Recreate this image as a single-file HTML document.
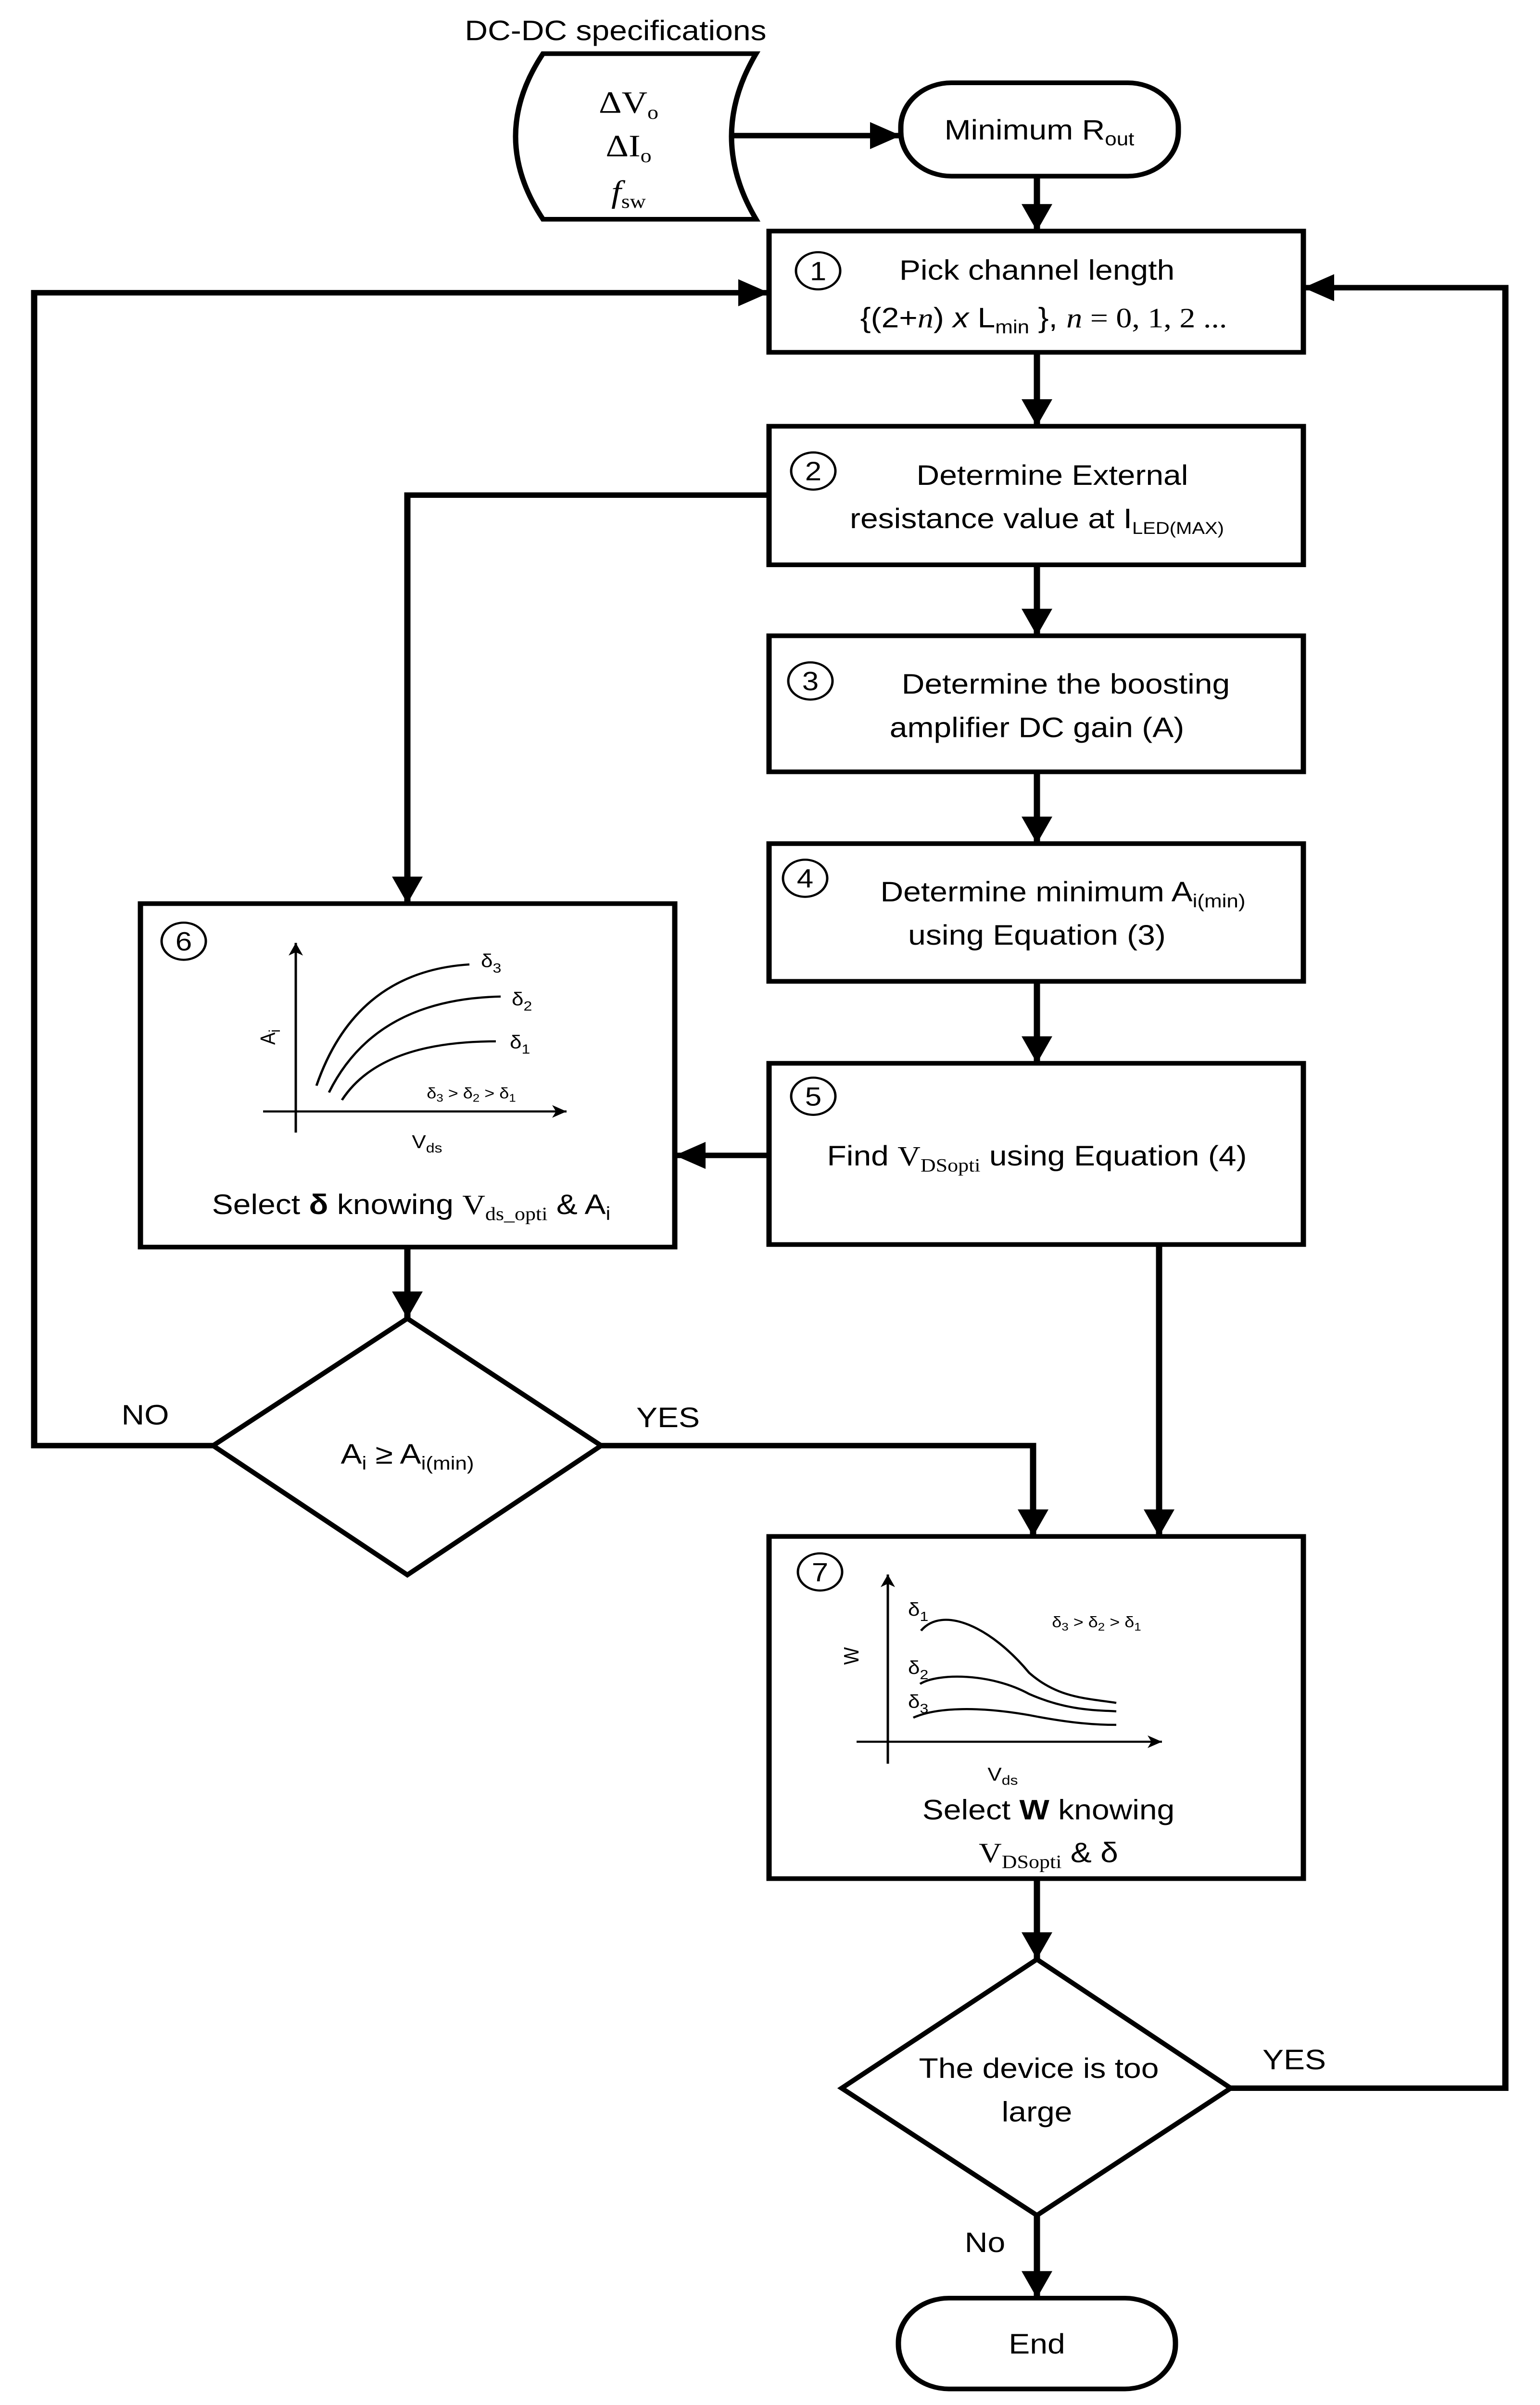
<!DOCTYPE html>
<html><head><meta charset="utf-8"><style>
html,body{margin:0;padding:0;background:#fff;width:100vw;height:100vh;overflow:hidden}
svg{display:block;position:absolute;left:0;top:0;width:100vw;height:100vh}
text{font-family:"Liberation Sans",sans-serif;fill:#000}
.t{font-size:66px}
.s{font-size:44px}
.ser{font-family:"Liberation Serif",serif}
</style></head><body>
<svg viewBox="0 0 3202 5693" preserveAspectRatio="none" xmlns="http://www.w3.org/2000/svg">
<defs>
<marker id="a" markerUnits="userSpaceOnUse" markerWidth="70" markerHeight="70" refX="64" refY="32" orient="auto"><path d="M0,0 L64,32 L0,64 z" fill="#000"/></marker>
<marker id="b" markerUnits="userSpaceOnUse" markerWidth="40" markerHeight="40" refX="30" refY="15" orient="auto"><path d="M0,0 L30,15 L0,30 L8,15 z" fill="#000"/></marker>
</defs>
<g fill="none" stroke="#000" stroke-width="11">
<path d="M1129,127 L1572,127 Q1470,323 1572,519 L1129,519 Q1015,323 1129,127 Z"/>
<rect x="1873" y="196" width="577" height="221" rx="105"/>
<rect x="1599" y="547" width="1111" height="287"/>
<rect x="1599" y="1009" width="1111" height="328"/>
<rect x="1599" y="1505" width="1111" height="322"/>
<rect x="1599" y="1997" width="1111" height="326"/>
<rect x="1599" y="2517" width="1111" height="429"/>
<rect x="292" y="2139" width="1111" height="813"/>
<rect x="1599" y="3637" width="1111" height="810"/>
<path d="M847,3121 L1250,3422 L847,3728 L443,3422 Z"/>
<path d="M2156,4638 L2559,4943 L2156,5244 L1750,4943 Z"/>
<rect x="1868" y="5440" width="576" height="215" rx="105"/>
</g>
<g fill="none" stroke="#000" stroke-width="13">
<line x1="1521" y1="321" x2="1873" y2="321" marker-end="url(#a)"/>
<line x1="2156" y1="417" x2="2156" y2="547" marker-end="url(#a)"/>
<line x1="2156" y1="834" x2="2156" y2="1009" marker-end="url(#a)"/>
<line x1="2156" y1="1337" x2="2156" y2="1505" marker-end="url(#a)"/>
<line x1="2156" y1="1827" x2="2156" y2="1997" marker-end="url(#a)"/>
<line x1="2156" y1="2323" x2="2156" y2="2517" marker-end="url(#a)"/>
<polyline points="1599,1172 847,1172 847,2139" marker-end="url(#a)"/>
<line x1="1599" y1="2735" x2="1403" y2="2735" marker-end="url(#a)"/>
<line x1="847" y1="2952" x2="847" y2="3121" marker-end="url(#a)"/>
<polyline points="443,3422 71,3422 71,693 1599,693" marker-end="url(#a)"/>
<polyline points="1250,3422 2148,3422 2148,3637" marker-end="url(#a)"/>
<line x1="2410" y1="2946" x2="2410" y2="3637" marker-end="url(#a)"/>
<line x1="2156" y1="4447" x2="2156" y2="4638" marker-end="url(#a)"/>
<polyline points="2559,4943 3130,4943 3130,681 2710,681" marker-end="url(#a)"/>
<line x1="2156" y1="5244" x2="2156" y2="5440" marker-end="url(#a)"/>
</g>
<g fill="none" stroke="#000" stroke-width="5">
<ellipse cx="1701" cy="641" rx="46" ry="44"/>
<ellipse cx="1691" cy="1115" rx="46" ry="44"/>
<ellipse cx="1685" cy="1612" rx="46" ry="44"/>
<ellipse cx="1674" cy="2079" rx="46" ry="44"/>
<ellipse cx="1691" cy="2595" rx="46" ry="44"/>
<ellipse cx="382" cy="2228" rx="46" ry="44"/>
<ellipse cx="1705" cy="3721" rx="46" ry="44"/>
</g>
<g text-anchor="middle">
<text x="1701" y="663" font-size="62px">1</text>
<text x="1691" y="1137" font-size="62px">2</text>
<text x="1685" y="1634" font-size="62px">3</text>
<text x="1674" y="2101" font-size="62px">4</text>
<text x="1691" y="2617" font-size="62px">5</text>
<text x="382" y="2250" font-size="62px">6</text>
<text x="1705" y="3743" font-size="62px">7</text>
</g>
<g fill="none" stroke="#000" stroke-width="5">
<line x1="615" y1="2681" x2="615" y2="2232" marker-end="url(#b)"/>
<line x1="547" y1="2631" x2="1178" y2="2631" marker-end="url(#b)"/>
<path d="M658,2570 Q740,2300 976,2283"/>
<path d="M684,2586 Q780,2365 1041,2359"/>
<path d="M711,2604 Q790,2465 1031,2465"/>
</g>
<g fill="none" stroke="#000" stroke-width="5">
<line x1="1846" y1="4175" x2="1846" y2="3727" marker-end="url(#b)"/>
<line x1="1781" y1="4123" x2="2416" y2="4123" marker-end="url(#b)"/>
<path d="M1915,3860 C1960,3800 2060,3850 2140,3960 C2200,4020 2260,4020 2321,4031"/>
<path d="M1913,3986 C1950,3960 2060,3960 2140,4010 C2220,4050 2280,4048 2321,4051"/>
<path d="M1899,4066 C1950,4040 2040,4040 2140,4060 C2230,4080 2280,4083 2321,4083"/>
</g>
<text class="t" x="1280" y="95" text-anchor="middle">DC-DC specifications</text>
<g text-anchor="middle">
<text x="1307" y="267" class="ser" font-size="74px">ΔV<tspan font-size="46px" dy="14">o</tspan></text>
<text x="1307" y="370" class="ser" font-size="74px">ΔI<tspan font-size="46px" dy="14">o</tspan></text>
<text x="1307" y="478" class="ser" font-size="74px" font-style="italic">f<tspan font-size="46px" dy="14" font-style="normal">sw</tspan></text>
</g>
<text class="t" x="2161" y="330" text-anchor="middle">Minimum R<tspan font-size="44px" dy="14">out</tspan></text>
<text class="t" x="2156" y="662" text-anchor="middle">Pick channel length</text>
<text class="t" x="2170" y="775" text-anchor="middle">{(2+<tspan class="ser" font-style="italic">n</tspan>) <tspan font-style="italic">x</tspan> L<tspan font-size="44px" dy="14">min</tspan><tspan dy="-14"> }, </tspan><tspan class="ser" font-style="italic">n</tspan><tspan class="ser"> = 0, 1, 2 ...</tspan></text>
<text class="t" x="2188" y="1148" text-anchor="middle">Determine External</text>
<text class="t" x="2156" y="1250" text-anchor="middle">resistance value at I<tspan font-size="40px" dy="14">LED(MAX)</tspan></text>
<text class="t" x="2216" y="1642" text-anchor="middle">Determine the boosting</text>
<text class="t" x="2156" y="1745" text-anchor="middle">amplifier DC gain (A)</text>
<text class="t" x="2210" y="2134" text-anchor="middle">Determine minimum  A<tspan font-size="44px" dy="14">i(min)</tspan></text>
<text class="t" x="2156" y="2236" text-anchor="middle">using Equation (3)</text>
<text class="t" x="2156" y="2759" text-anchor="middle">Find <tspan class="ser">V</tspan><tspan class="ser" font-size="44px" dy="14">DSopti</tspan><tspan dy="-14">  using Equation (4)</tspan></text>
<text class="t" x="855" y="2874" text-anchor="middle">Select <tspan font-weight="bold">δ</tspan> knowing  <tspan class="ser">V</tspan><tspan class="ser" font-size="44px" dy="14">ds_opti</tspan><tspan dy="-14"> &amp; A</tspan><tspan font-size="44px" dy="14">i</tspan></text>
<text class="s" x="1000" y="2290">δ<tspan font-size="32px" dy="12">3</tspan></text>
<text class="s" x="1064" y="2380">δ<tspan font-size="32px" dy="12">2</tspan></text>
<text class="s" x="1060" y="2482">δ<tspan font-size="32px" dy="12">1</tspan></text>
<text x="980" y="2600" font-size="36px" text-anchor="middle">δ<tspan font-size="26px" dy="8">3</tspan><tspan dy="-8"> &gt; δ</tspan><tspan font-size="26px" dy="8">2</tspan><tspan dy="-8"> &gt; δ</tspan><tspan font-size="26px" dy="8">1</tspan></text>
<text class="s" x="888" y="2718" text-anchor="middle">V<tspan font-size="32px" dy="10">ds</tspan></text>
<text class="s" transform="translate(572,2455) rotate(-90)" text-anchor="middle">A<tspan font-size="32px" dy="10">i</tspan></text>
<text class="t" x="847" y="3465" text-anchor="middle">A<tspan font-size="44px" dy="14">i</tspan><tspan dy="-14"> ≥ A</tspan><tspan font-size="44px" dy="14">i(min)</tspan></text>
<text class="t" x="302" y="3372" text-anchor="middle">NO</text>
<text class="t" x="1389" y="3378" text-anchor="middle">YES</text>
<text class="s" x="1888" y="3825">δ<tspan font-size="32px" dy="12">1</tspan></text>
<text class="s" x="1888" y="3963">δ<tspan font-size="32px" dy="12">2</tspan></text>
<text class="s" x="1888" y="4043">δ<tspan font-size="32px" dy="12">3</tspan></text>
<text x="2280" y="3852" font-size="36px" text-anchor="middle">δ<tspan font-size="26px" dy="8">3</tspan><tspan dy="-8"> &gt; δ</tspan><tspan font-size="26px" dy="8">2</tspan><tspan dy="-8"> &gt; δ</tspan><tspan font-size="26px" dy="8">1</tspan></text>
<text class="s" transform="translate(1785,3920) rotate(-90)" text-anchor="middle">W</text>
<text class="s" x="2085" y="4215" text-anchor="middle">V<tspan font-size="32px" dy="10">ds</tspan></text>
<text class="t" x="2180" y="4307" text-anchor="middle">Select <tspan font-weight="bold">W</tspan>  knowing</text>
<text class="t" x="2180" y="4408" text-anchor="middle"><tspan class="ser">V</tspan><tspan class="ser" font-size="44px" dy="14">DSopti</tspan><tspan dy="-14"> &amp; δ</tspan></text>
<text class="t" x="2160" y="4919" text-anchor="middle">The device is too</text>
<text class="t" x="2156" y="5022" text-anchor="middle">large</text>
<text class="t" x="2691" y="4898" text-anchor="middle">YES</text>
<text class="t" x="2048" y="5331" text-anchor="middle">No</text>
<text class="t" x="2156" y="5571" text-anchor="middle">End</text>
</svg>
</body></html>
